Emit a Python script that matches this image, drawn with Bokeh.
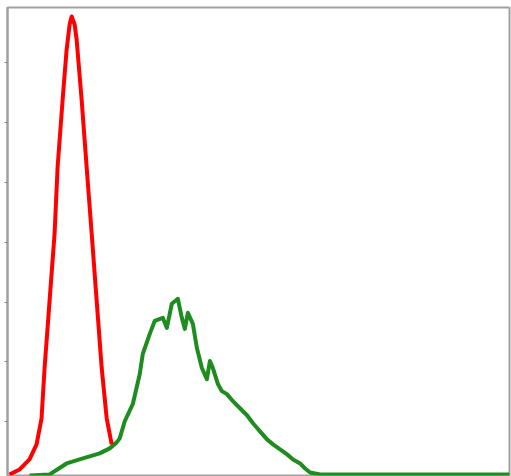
from bokeh.plotting import figure
from bokeh.models import Range1d, LinearAxis, FixedTicker, CustomJSTickFormatter
from bokeh.embed import file_html
from bokeh.resources import INLINE

# Fluorescence channel (arbitrary units) and event counts
red_x = [2, 12, 22, 29, 34, 37, 42, 47, 50, 55, 59, 62, 64, 67, 69, 74, 79, 84, 89, 94, 99, 104]
red_y = [1, 6, 16, 31, 57, 107, 174, 241, 307, 374, 424, 449, 457, 449, 434, 374, 307, 241, 174, 107, 57, 31]

green_x = [22, 42, 59, 72, 92, 102, 109, 112, 117, 125, 132, 135, 142, 147, 155, 159, 164, 170, 174,
           177, 180, 185, 189, 194, 199, 202, 205, 210, 214, 219, 225, 232, 239, 245, 252, 259, 265,
           272, 279, 285, 292, 297, 302, 312, 322, 400, 501]
green_y = [0, 1, 12, 16, 22, 27, 33, 37, 54, 71, 101, 121, 141, 154, 157, 147, 171, 176, 157, 146,
           162, 151, 127, 107, 96, 114, 107, 91, 84, 81, 74, 67, 60, 52, 44, 36, 31, 26, 21, 16, 12,
           7, 3, 1, 1, 1, 1]

tick_values = [54, 114, 172, 232, 292, 351, 411]

p = figure(width=511, height=476, output_backend="svg", toolbar_location=None,
           x_range=Range1d(0, 501), y_range=Range1d(0, 466),
           x_axis_type=None, y_axis_type=None,
           min_border_left=7, min_border_top=7, min_border_right=2, min_border_bottom=1)
p.grid.visible = False
p.outline_line_color = "#a0a0a0"
p.outline_line_width = 2
p.background_fill_color = "white"

ax = LinearAxis(ticker=FixedTicker(ticks=tick_values),
                formatter=CustomJSTickFormatter(code="return ''"))
ax.major_tick_in = 0
ax.major_tick_out = 3
ax.minor_tick_line_color = None
ax.major_tick_line_color = "#888888"
ax.axis_line_color = "#a0a0a0"
ax.axis_line_width = 2
ax.major_label_standoff = 0
p.add_layout(ax, "left")

p.line(green_x, green_y, line_color="#1e8c1e", line_width=4, line_join="round")
p.line(red_x, red_y, line_color="#ff0000", line_width=4, line_join="round")

open("out.html", "w").write(file_html(p, INLINE))
